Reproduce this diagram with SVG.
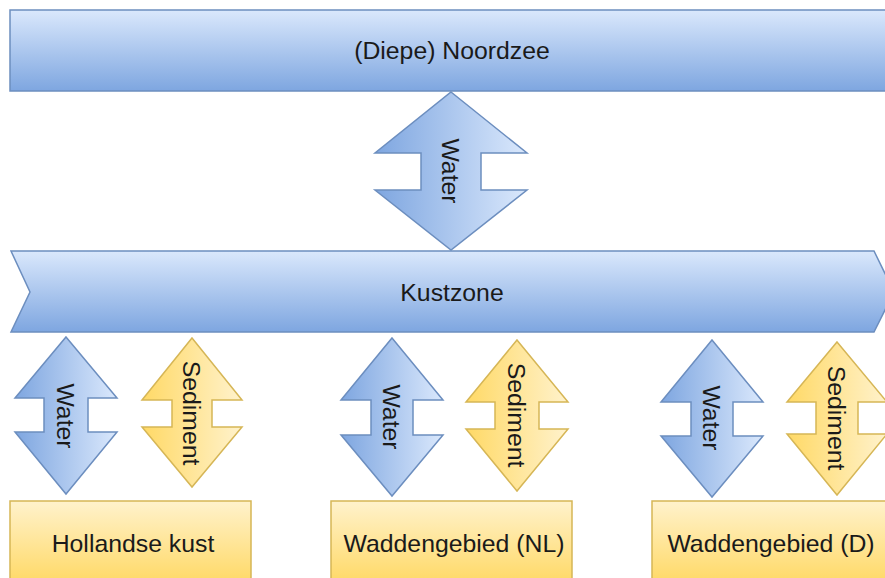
<svg xmlns="http://www.w3.org/2000/svg" width="885" height="578" viewBox="0 0 885 578">
  <defs>
    <linearGradient id="blueV" x1="0" y1="0" x2="0" y2="1">
      <stop offset="0" stop-color="#dae8fc"/>
      <stop offset="1" stop-color="#7ea6e0"/>
    </linearGradient>
    <linearGradient id="yellowV" x1="0" y1="0" x2="0" y2="1">
      <stop offset="0" stop-color="#fff2cc"/>
      <stop offset="1" stop-color="#ffd966"/>
    </linearGradient>
    <linearGradient id="blueH" x1="0" y1="0" x2="1" y2="0">
      <stop offset="0" stop-color="#7ea6e0"/>
      <stop offset="1" stop-color="#dae8fc"/>
    </linearGradient>
    <linearGradient id="yellowH" x1="0" y1="0" x2="1" y2="0">
      <stop offset="0" stop-color="#ffd966"/>
      <stop offset="1" stop-color="#fff2cc"/>
    </linearGradient>
  </defs>
  <style>
    .blue { fill: url(#blueV); stroke: #6c8ebf; stroke-width: 1.5; }
    .yellow { fill: url(#yellowV); stroke: #d6b656; stroke-width: 1.5; }
    .flow-w { fill: url(#blueH); stroke: #6c8ebf; stroke-width: 1.5; stroke-linejoin: miter; }
    .flow-s { fill: url(#yellowH); stroke: #d6b656; stroke-width: 1.5; stroke-linejoin: miter; }
    text { font-family: "Liberation Sans", Arial, sans-serif; font-size: 24.8px; fill: #1a1a1a; text-anchor: middle; dominant-baseline: central; }
  </style>

  <!-- Deep sea -->
  <g id="noordzee">
    <rect class="blue" x="10" y="10" width="890" height="81"/>
    <text x="452" y="50">(Diepe) Noordzee</text>
  </g>

  <!-- Coastal zone (step shape) -->
  <g id="kustzone">
    <polygon class="blue" points="11,251 874,251 894,292 874,332 11,332 30,292"/>
    <text x="452" y="292">Kustzone</text>
  </g>

  <!-- Regions -->
  <g id="hollandse-kust">
    <rect class="yellow" x="10" y="501" width="241" height="82"/>
    <text x="133" y="543">Hollandse kust</text>
  </g>
  <g id="waddengebied-nl">
    <rect class="yellow" x="331" y="501" width="241" height="82"/>
    <text x="454" y="543">Waddengebied (NL)</text>
  </g>
  <g id="waddengebied-d">
    <rect class="yellow" x="652" y="501" width="241" height="82"/>
    <text x="771" y="543">Waddengebied (D)</text>
  </g>

  <!-- Exchange flows (double arrows) -->
  <g id="connectors">
    <g id="water-top">
      <polygon class="flow-w" points="451,92 527,153 481,153 481,190 527,190 451,250 375,190 421,190 421,153 375,153"/>
      <text transform="translate(450,171) rotate(90)">Water</text>
    </g>
    <g id="water-holland">
      <polygon class="flow-w" points="66,337 117,398 88,398 88,432 117,432 66,494 15,432 44,432 44,398 15,398"/>
      <text transform="translate(65,416) rotate(90)">Water</text>
    </g>
    <g id="sediment-holland">
      <polygon class="flow-s" points="192,338 242,400 212,400 212,427 242,427 192,487 142,427 172,427 172,400 142,400"/>
      <text transform="translate(191,413) rotate(90)">Sediment</text>
    </g>
    <g id="water-wadden-nl">
      <polygon class="flow-w" points="392,338 443,400 413,400 413,435 443,435 392,496 341,435 371,435 371,400 341,400"/>
      <text transform="translate(391,417) rotate(90)">Water</text>
    </g>
    <g id="sediment-wadden-nl">
      <polygon class="flow-s" points="517,340 568,402 539,402 539,429 568,429 517,491 466,429 495,429 495,402 466,402"/>
      <text transform="translate(516,415) rotate(90)">Sediment</text>
    </g>
    <g id="water-wadden-d">
      <polygon class="flow-w" points="712,340 763,402 733,402 733,436 763,436 712,497 661,436 691,436 691,402 661,402"/>
      <text transform="translate(711,418) rotate(90)">Water</text>
    </g>
    <g id="sediment-wadden-d">
      <polygon class="flow-s" points="837,342 887,402 858,402 858,434 887,434 837,495 787,434 816,434 816,402 787,402"/>
      <text transform="translate(836,418) rotate(90)">Sediment</text>
    </g>
  </g>
</svg>
